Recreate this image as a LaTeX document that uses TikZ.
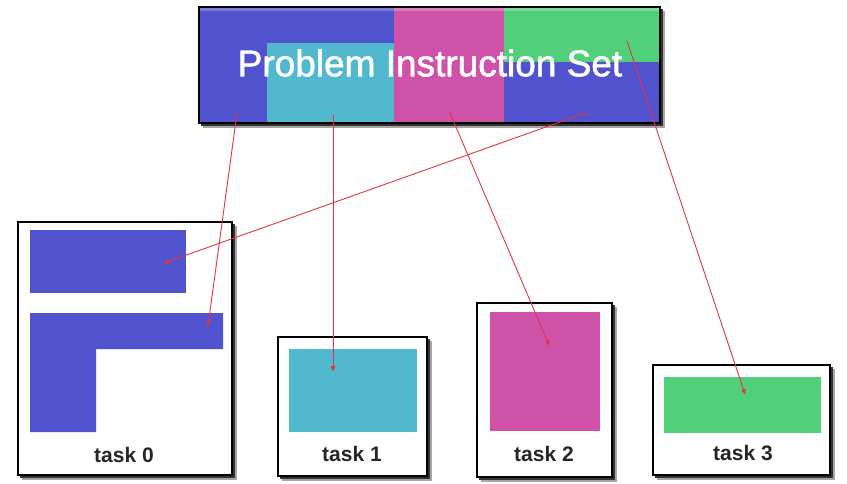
\documentclass[tikz,border=0pt]{standalone}
\usepackage{fontspec}
\setmainfont{Liberation Sans}
\newfontfamily\titlefont[FakeBold=1.5]{Liberation Sans}
\usetikzlibrary{arrows.meta}
\definecolor{cblue}{RGB}{81,82,205}
\definecolor{ccyan}{RGB}{82,184,206}
\definecolor{cmag}{RGB}{205,82,168}
\definecolor{cgreen}{RGB}{82,207,122}
\definecolor{cred}{RGB}{232,50,64}
\begin{document}
\begin{tikzpicture}[x=1pt,y=-1pt,
  shad/.style={fill=black!35},
  shadd/.style={fill=black!80},
  frame/.style={draw=black,line width=1.6pt,fill=white},
  tasklabel/.style={font=\fontsize{21}{24}\selectfont\bfseries,text=black!85,inner sep=0pt},
  link/.style={draw=cred,line width=0.9pt,-{Latex[length=6pt,width=5pt,round]}}]
\useasboundingbox (0,0) rectangle (847,484);
% shadows
\foreach \a/\b/\c/\d in {199/7/660/123, 18/222/232/475, 278/337/427/476, 477/303/612/477, 653/365/830/475}{
  \fill[shad] (\a+4,\b+4) rectangle (\c+5,\d+5);
  \fill[shadd] (\a+2,\b+2) rectangle (\c+3,\d+3);
}
% top box
\path[frame] (199,7) rectangle (660,123);
\fill[cblue] (200,8) rectangle (659,122);
\fill[ccyan] (267,43) rectangle (394,122);
\fill[cmag] (394,8) rectangle (504,122);
\fill[cgreen] (504,8) rectangle (659,62);
\fill[white,opacity=0.25] (200,8) rectangle (659,11);
\draw[black,line width=1.6pt] (199,7) rectangle (660,123);
\node[text=white,font=\titlefont\fontsize{37}{40}\selectfont,inner sep=0pt] (title) at (430,63) {Problem Instruction Set};
% task boxes
\path[frame] (18,222) rectangle (232,475);
\fill[cblue] (30,230) rectangle (186,293);
\fill[cblue] (30,313) -- (223,313) -- (223,349) -- (96,349) -- (96,432) -- (30,432) -- cycle;
\node[tasklabel] (t0) at (124,455) {task 0};
\path[frame] (278,337) rectangle (427,476);
\fill[ccyan] (289,349) rectangle (417,432);
\node[tasklabel] (t1) at (352,454) {task 1};
\path[frame] (477,303) rectangle (612,477);
\fill[cmag] (490,312) rectangle (600,431);
\node[tasklabel] (t2) at (544,454) {task 2};
\path[frame] (653,365) rectangle (830,475);
\fill[cgreen] (664,377) rectangle (821,433);
\node[tasklabel] (t3) at (743,453) {task 3};
% endpoints
\coordinate (s1) at (237,113);
\coordinate (s2) at (333,115);
\coordinate (s3) at (450,113);
\coordinate (s4) at (588,112);
\coordinate (s5) at (627,41);
\coordinate (e1) at (208,326);
\coordinate (e2) at (333,371);
\coordinate (e3) at (549,345);
\coordinate (e4) at (164,263);
\coordinate (e5) at (745,394);
\draw[link] (s1) -- (e1);
\draw[link] (s2) -- (e2);
\draw[link] (s3) -- (e3);
\draw[link] (s4) -- (e4);
\draw[link] (s5) -- (e5);
\end{tikzpicture}
\end{document}
